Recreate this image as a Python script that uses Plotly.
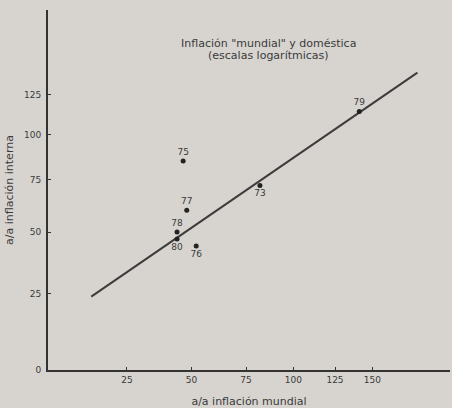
import plotly.graph_objects as go

# Data (values in %; axes are logarithmic with an offset)
years = ["79", "75", "77", "78", "80", "76", "73"]
inflacion_mundial = [141, 46.5, 48, 44, 44, 52, 82]
inflacion_interna = [114, 85, 60, 50, 47, 44, 72]
label_pos = ["top center", "top center", "top center", "top center",
             "bottom center", "bottom center", "bottom center"]

# Trend line end points
linea_mundial = [13, 184]
linea_interna = [24, 140]

x_ticks = [25, 50, 75, 100, 125, 150]
y_ticks = [0, 25, 50, 75, 100, 125]

titulo = ["Inflación \"mundial\" y doméstica", "(escalas logarítmicas)"]

OFFSET = 100  # log scale of (value + 100)

ink = "#333333"
txt = "#3a3a3a"
paper = "#d7d4d0"
font = "DejaVu Sans"

fig = go.Figure()

fig.add_trace(go.Scatter(
    x=[v + OFFSET for v in linea_mundial],
    y=[v + OFFSET for v in linea_interna],
    mode="lines",
    line=dict(color="#3c3c3c", width=2),
    hoverinfo="skip",
    showlegend=False,
))

fig.add_trace(go.Scatter(
    x=[v + OFFSET for v in inflacion_mundial],
    y=[v + OFFSET for v in inflacion_interna],
    mode="markers+text",
    marker=dict(color="#222222", size=5),
    text=years,
    textposition=label_pos,
    textfont=dict(family=font, size=9, color=txt),
    showlegend=False,
))

fig.update_xaxes(
    type="log",
    range=[2.0, 2.4933],
    tickvals=[t + OFFSET for t in x_ticks],
    ticktext=[str(t) for t in x_ticks],
    showgrid=False, zeroline=False,
    showline=True, linecolor=ink, linewidth=2,
    ticks="inside", ticklen=3, tickcolor=ink,
    tickfont=dict(family=font, size=9, color=txt),
    title=dict(text="a/a inflación mundial",
               font=dict(family=font, size=11, color=txt), standoff=19),
    automargin=False,
)
fig.update_yaxes(
    type="log",
    range=[1.9995, 2.4603],
    tickvals=[t + OFFSET for t in y_ticks],
    ticktext=[str(t) for t in y_ticks],
    showgrid=False, zeroline=False,
    showline=True, linecolor=ink, linewidth=2,
    ticks="inside", ticklen=3, tickcolor=ink,
    ticklabelstandoff=3,
    tickfont=dict(family=font, size=9, color=txt),
    title=dict(text="a/a inflación interna",
               font=dict(family=font, size=11, color=txt), standoff=8),
    automargin=False,
)

L, R, T, B = 48, 2, 10, 38
pw = 452 - L - R
ph = 408 - T - B

for line_text, py in zip(titulo, [43, 55]):
    fig.add_annotation(
        x=(268 - L) / pw, y=(408 - B - py) / ph, xref="paper", yref="paper",
        text=line_text, showarrow=False,
        font=dict(family=font, size=11, color=txt),
        xanchor="center", yanchor="middle",
    )

fig.update_layout(
    width=452, height=408,
    margin=dict(l=L, r=R, t=T, b=B, autoexpand=False),
    paper_bgcolor=paper,
    plot_bgcolor=paper,
)

fig.write_html(
    "out.html",
    config={"displayModeBar": False},
    post_script="document.body.style.margin='0';"
                "document.body.style.overflow='hidden';"
                "document.body.style.background='" + paper + "';",
)
